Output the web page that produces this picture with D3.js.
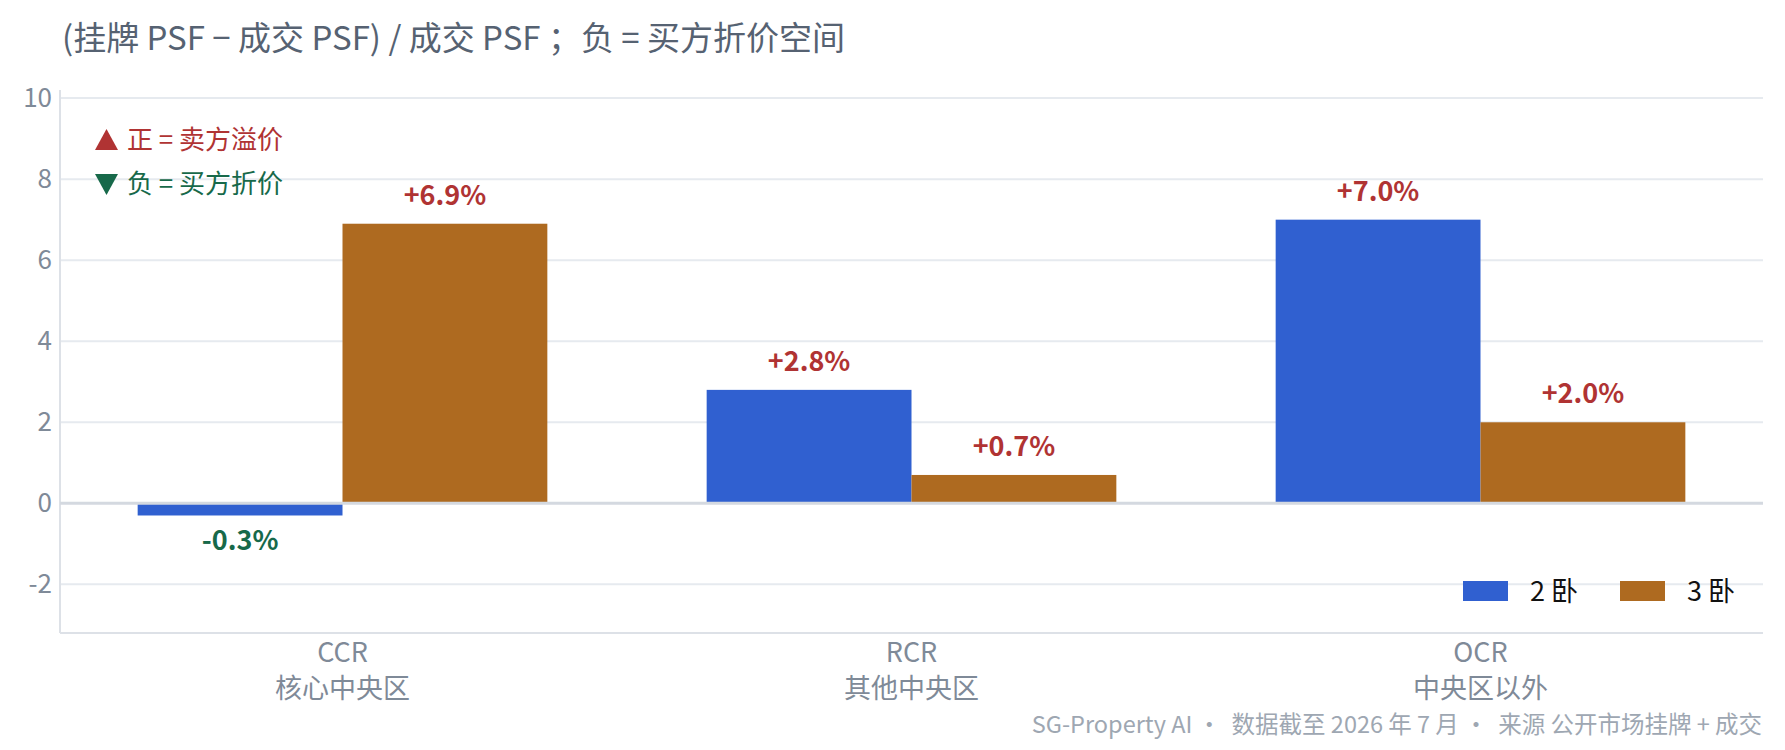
<!DOCTYPE html>
<html>
<head>
<meta charset="utf-8">
<script src="https://cdn.jsdelivr.net/npm/d3@7"></script>
<style>
  html, body { margin: 0; padding: 0; background: #ffffff; }
  svg { display: block; }
  text { font-family: "Noto Sans CJK SC", "Noto Sans", sans-serif; white-space: pre; }
</style>
</head>
<body>
<svg id="chart" width="1785" height="750"></svg>
<script>
// ---- data ----
const categories = ["CCR", "RCR", "OCR"];
const categoryNames = ["核心中央区", "其他中央区", "中央区以外"];
const seriesNames = ["2 卧", "3 卧"];
const values2Bed = [-0.3, 2.8, 7.0];
const values3Bed = [6.9, 0.7, 2.0];
const yTicks = [-2, 0, 2, 4, 6, 8, 10];
const yTickLabels = ["-2", "0", "2", "4", "6", "8", "10"];
const titleText = "(挂牌 PSF − 成交 PSF) / 成交 PSF ；负 = 买方折价空间";
const notePositive = "正 = 卖方溢价";
const noteNegative = "负 = 买方折价";
const footerText = "SG-Property AI ·  数据截至 2026 年 7 月 ·  来源 公开市场挂牌 + 成交";

const seriesColors = ["#3060d0", "#ae6a20"];
const posColor = "#b03333";
const negColor = "#17694a";

const svg = d3.select("#chart");

const plot = { left: 60, right: 1763, top: 90, bottom: 633 };

const x0 = d3.scaleBand()
  .domain(categories)
  .range([58, 1765])
  .paddingInner(0.28)
  .paddingOuter(0.14);

const x1 = d3.scaleBand()
  .domain(seriesNames)
  .range([0, x0.bandwidth()])
  .padding(0);

const y = d3.scaleLinear()
  .domain([-3.2, 10.2])
  .range([plot.bottom, plot.top]);

// title
svg.append("text")
  .attr("x", 62)
  .attr("y", 50)
  .attr("font-size", 33)
  .attr("fill", "#566272")
  .text(titleText);

// gridlines
svg.append("g")
  .selectAll("line")
  .data(yTicks.filter(d => d !== 0))
  .join("line")
  .attr("x1", plot.left).attr("x2", plot.right)
  .attr("y1", d => y(d)).attr("y2", d => y(d))
  .attr("stroke", "#e6eaef")
  .attr("stroke-width", 2);

// y axis
const yAxis = svg.append("g")
  .attr("transform", `translate(${plot.left},0)`)
  .call(d3.axisLeft(y).tickValues(yTicks).tickSize(0).tickPadding(8)
    .tickFormat((d, i) => yTickLabels[i]));
yAxis.select(".domain").remove();
yAxis.selectAll("text")
  .attr("font-size", 26)
  .attr("fill", "#7f8a98")
  .attr("font-family", "Noto Sans CJK SC");

// left axis line
svg.append("line")
  .attr("x1", plot.left).attr("x2", plot.left)
  .attr("y1", plot.top).attr("y2", plot.bottom)
  .attr("stroke", "#dde1e7").attr("stroke-width", 2);

// bars
const groups = svg.append("g")
  .selectAll("g")
  .data(categories.map((c, i) => ({ cat: c, vals: [values2Bed[i], values3Bed[i]] })))
  .join("g")
  .attr("transform", d => `translate(${x0(d.cat)},0)`);

groups.selectAll("rect")
  .data(d => d.vals.map((v, j) => ({ key: seriesNames[j], v, j })))
  .join("rect")
  .attr("x", d => x1(d.key))
  .attr("width", x1.bandwidth())
  .attr("y", d => y(Math.max(0, d.v)))
  .attr("height", d => Math.abs(y(d.v) - y(0)))
  .attr("fill", d => seriesColors[d.j]);

// value labels
groups.selectAll("text.val")
  .data(d => d.vals.map((v, j) => ({ key: seriesNames[j], v, j })))
  .join("text")
  .attr("class", "val")
  .attr("x", d => x1(d.key) + x1.bandwidth() / 2)
  .attr("y", d => d.v >= 0 ? y(d.v) - 19 : y(d.v) + 35)
  .attr("text-anchor", "middle")
  .attr("font-size", 27)
  .attr("font-weight", 700)
  .attr("fill", d => d.v >= 0 ? posColor : negColor)
  .text(d => (d.v >= 0 ? "+" : "") + d.v.toFixed(1) + "%");

// zero line
svg.append("line")
  .attr("x1", plot.left).attr("x2", plot.right)
  .attr("y1", y(0)).attr("y2", y(0))
  .attr("stroke", "#d4d9e0").attr("stroke-width", 3);

// bottom axis line
svg.append("line")
  .attr("x1", plot.left).attr("x2", plot.right)
  .attr("y1", plot.bottom).attr("y2", plot.bottom)
  .attr("stroke", "#dde1e7").attr("stroke-width", 2);

// x axis labels (two separate lines)
const xg = svg.append("g");
xg.selectAll("text.code")
  .data(categories)
  .join("text")
  .attr("class", "code")
  .attr("x", d => x0(d) + x0.bandwidth() / 2)
  .attr("y", 662)
  .attr("text-anchor", "middle")
  .attr("font-size", 27)
  .attr("fill", "#7f8a98")
  .text(d => d);
xg.selectAll("text.name")
  .data(categories.map((c, i) => ({ c, n: categoryNames[i] })))
  .join("text")
  .attr("class", "name")
  .attr("x", d => x0(d.c) + x0.bandwidth() / 2)
  .attr("y", 698)
  .attr("text-anchor", "middle")
  .attr("font-size", 27)
  .attr("fill", "#7f8a98")
  .text(d => d.n);

// annotations
const notes = [
  { text: notePositive, color: posColor, up: true, cy: 140 },
  { text: noteNegative, color: negColor, up: false, cy: 184 }
];
const ng = svg.append("g").selectAll("g").data(notes).join("g");
ng.append("path")
  .attr("d", d => d.up
    ? `M95,${d.cy + 10} L118,${d.cy + 10} L106.5,${d.cy - 11} Z`
    : `M95,${d.cy - 10} L118,${d.cy - 10} L106.5,${d.cy + 11} Z`)
  .attr("fill", d => d.color);
ng.append("text")
  .attr("x", 127)
  .attr("y", d => d.cy + 9)
  .attr("font-size", 26)
  .attr("fill", d => d.color)
  .text(d => d.text);

// legend
const legendItems = [
  { name: seriesNames[0], color: seriesColors[0], x: 1463 },
  { name: seriesNames[1], color: seriesColors[1], x: 1620 }
];
const lg = svg.append("g").selectAll("g").data(legendItems).join("g");
lg.append("rect")
  .attr("x", d => d.x).attr("y", 581)
  .attr("width", 45).attr("height", 20)
  .attr("fill", d => d.color);
lg.append("text")
  .attr("x", d => d.x + 67)
  .attr("y", 601)
  .attr("font-size", 27)
  .attr("fill", "#111111")
  .text(d => d.name);

// footer
svg.append("text")
  .attr("x", 1762)
  .attr("y", 733)
  .attr("text-anchor", "end")
  .attr("font-size", 23.5)
  .attr("fill", "#9ea7b2")
  .text(footerText);
</script>
</body>
</html>
